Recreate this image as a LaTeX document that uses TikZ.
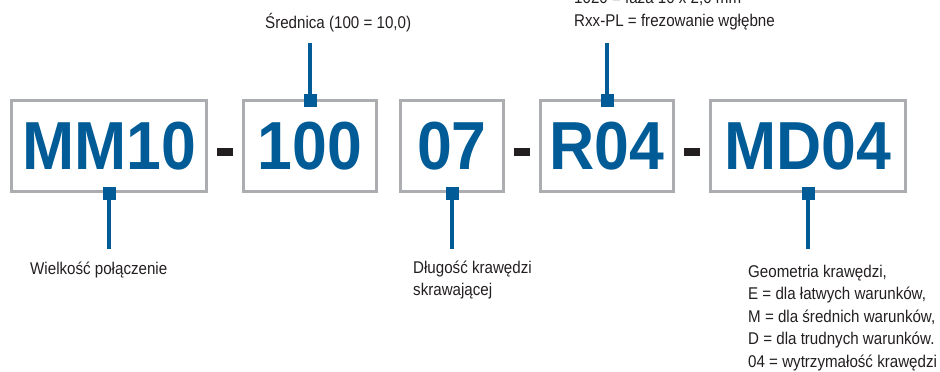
\documentclass[tikz,border=0pt]{standalone}
\usepackage{fontspec}
\setmainfont{Liberation Sans}
\newfontfamily\labelfont{Liberation Sans}[FakeStretch=0.89]
\newfontfamily\codefont{Liberation Sans Bold}[FakeStretch=0.92]
\usetikzlibrary{positioning, calc}
\definecolor{codeblue}{RGB}{0,91,150}
\definecolor{framegray}{RGB}{172,173,177}
\definecolor{inkgray}{RGB}{35,31,32}
\tikzset{
    % Code segments
    segment/.style = {
        draw=framegray, line width=3pt, minimum height=91pt, inner sep=0pt,
        text=codeblue, font=\codefont\fontsize{68}{68}\selectfont
    },
    wideseg/.style   = {segment, minimum width=195pt},
    midseg/.style    = {segment, minimum width=133pt},
    narrowseg/.style = {segment, minimum width=103pt},
    dashbar/.style   = {fill=inkgray, minimum width=16pt, minimum height=8pt, inner sep=0pt},
    % Markers, leaders and notes
    flag/.style   = {fill=codeblue, minimum size=13pt, inner sep=0pt},
    leader/.style = {draw=codeblue, line width=3.3pt},
    note/.style   = {font=\labelfont\fontsize{17}{22.4}\selectfont, text=inkgray,
        inner sep=0pt, align=left, anchor=base west}
}

\begin{document}
\begin{tikzpicture}[x=1pt, y=-1pt, node distance=34pt]
    \useasboundingbox (0,0) rectangle (940,372);

    \node (mm) [wideseg] at (109,146) {MM10};
    \node (dia) [midseg, right=of mm] {100};
    \node (len) [narrowseg, right=21pt of dia] {07};
    \node (rad) [midseg, right=of len] {R04};
    \node (geo) [wideseg, right=of rad] {MD04};

    \node (dash1) [dashbar, yshift=-6pt] at ($(mm.east)!0.5!(dia.west)$) {};
    \node (dash2) [dashbar, yshift=-6pt] at ($(len.east)!0.5!(rad.west)$) {};
    \node (dash3) [dashbar, yshift=-6pt] at ($(rad.east)!0.5!(geo.west)$) {};

    \node (mmflag) [flag] at (mm.south) {};
    \node (diaflag) [flag, yshift=-1.5pt] at (dia.north) {};
    \node (lenflag) [flag] at (len.south) {};
    \node (radflag) [flag, yshift=-1.5pt] at (rad.north) {};
    \node (geoflag) [flag] at (geo.south) {};

    \coordinate (mmend) at (mmflag |- 0,249);
    \coordinate (diaend) at (diaflag |- 0,43);
    \coordinate (lenend) at (lenflag |- 0,249);
    \coordinate (radend) at (radflag |- 0,43);
    \coordinate (geoend) at (geoflag |- 0,249);

    \draw [leader] (mmflag) -- (mmend);
    \draw [leader] (diaflag) -- (diaend);
    \draw [leader] (lenflag) -- (lenend);
    \draw [leader] (radflag) -- (radend);
    \draw [leader] (geoflag) -- (geoend);

    \node (sizenote) [note] at (30,274) {Wielkość połączenie};
    \node (lennote) [note] at (413,295.5) {Długość krawędzi\\skrawającej};
    \node (geonote) [note] at (748,367) {Geometria krawędzi,\\E = dla łatwych warunków,\\M = dla średnich warunków,\\D = dla trudnych warunków.\\04 = wytrzymałość krawędzi};
    \node (dianote) [note] at (265,28) {Średnica (100 = 10,0)};
    \node (radnote) [note] at (574,26) {1020 = faza 10 x 2,0 mm\\Rxx-PL = frezowanie wgłębne};
\end{tikzpicture}
\end{document}
